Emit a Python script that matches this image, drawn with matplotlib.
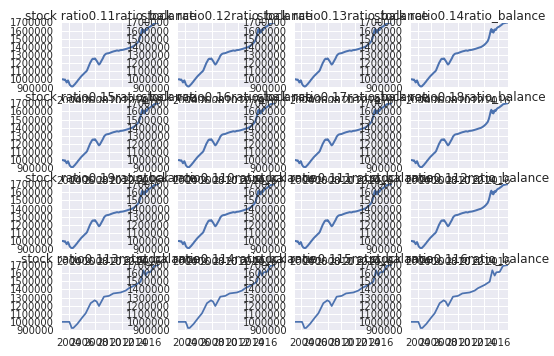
import matplotlib
matplotlib.use("Agg")
import matplotlib.pyplot as plt
from matplotlib.ticker import FixedLocator, FuncFormatter

# ---- data ----
ratio_labels = ["0.1%d" % i for i in range(1, 17)]

daily_years = [2003.00, 2003.15, 2003.30, 2003.45, 2003.60, 2003.70, 2003.80, 2003.90,
               2004.00, 2004.10, 2004.20, 2004.35, 2004.50, 2004.65, 2004.80, 2004.95,
               2005.10, 2005.25, 2005.40, 2005.55, 2005.70, 2005.85, 2006.00, 2006.15,
               2006.30, 2006.45, 2006.60, 2006.75, 2006.90, 2007.05, 2007.20, 2007.35,
               2007.50, 2007.65, 2007.80, 2007.95, 2008.10, 2008.25, 2008.40, 2008.55,
               2008.70, 2008.85, 2009.00, 2009.15, 2009.30, 2009.45, 2009.60, 2009.80,
               2010.00, 2010.25, 2010.50, 2010.75, 2011.00, 2011.25, 2011.50, 2011.75,
               2012.00, 2012.25, 2012.50, 2012.75, 2013.00, 2013.25, 2013.50, 2013.75,
               2014.00, 2014.25, 2014.50, 2014.65, 2014.80, 2014.95, 2015.05, 2015.15,
               2015.25, 2015.35, 2015.45, 2015.55, 2015.70, 2015.85, 2016.00, 2016.20,
               2016.40, 2016.60, 2016.80, 2017.00, 2017.20, 2017.40, 2017.55]
daily_balance = [1000000, 1002000, 994000, 998000, 978000, 962000, 975000, 988000,
                 970000, 945000, 930000, 918000, 912000, 916000, 930000, 942000,
                 958000, 972000, 990000, 1004000, 1020000, 1035000, 1048000, 1060000,
                 1072000, 1085000, 1095000, 1110000, 1140000, 1170000, 1200000, 1222000,
                 1245000, 1255000, 1250000, 1258000, 1240000, 1222000, 1200000, 1182000,
                 1195000, 1218000, 1240000, 1262000, 1290000, 1305000, 1315000, 1320000,
                 1322000, 1330000, 1338000, 1345000, 1350000, 1356000, 1352000, 1360000,
                 1362000, 1366000, 1372000, 1378000, 1385000, 1392000, 1398000, 1410000,
                 1425000, 1445000, 1470000, 1500000, 1545000, 1600000, 1620000, 1585000,
                 1605000, 1575000, 1595000, 1615000, 1605000, 1628000, 1640000, 1648000,
                 1660000, 1672000, 1688000, 1692000, 1696000, 1699000, 1700000]

smooth_years = [2003.00, 2004.10, 2004.30, 2004.45, 2004.70, 2005.30, 2006.05, 2006.55,
                2007.30, 2007.90, 2008.20, 2008.55, 2009.30, 2010.05, 2010.70, 2011.80,
                2012.55, 2013.05, 2014.05, 2014.80, 2015.20, 2015.55, 2015.80, 2016.30,
                2016.80, 2017.55]
smooth_balance = [1000000, 1000000, 960000, 925000, 925000, 975000, 1055000, 1105000,
                  1230000, 1265000, 1250000, 1195000, 1310000, 1320000, 1350000, 1362000,
                  1385000, 1415000, 1455000, 1495000, 1635000, 1570000, 1610000, 1615000,
                  1690000, 1700000]

year_ticks = [2004, 2006, 2008, 2010, 2012, 2014, 2016]
balance_ticks = [900000, 1000000, 1100000, 1200000, 1300000, 1400000, 1500000, 1600000, 1700000]

# ---- figure ----
W, H, DPI = 554, 356, 72
fig = plt.figure(figsize=(W / DPI, H / DPI), dpi=DPI, facecolor="white")
plt.rcParams['font.family'] = ['DejaVu Sans']

col_left = [62, 178.3, 294.7, 411]
row_top = [22.5, 103.3, 184.2, 265]
ax_w, ax_h = 97, 65

text_color = "#262626"
for idx, lab in enumerate(ratio_labels):
    r, c = divmod(idx, 4)
    left = col_left[c] / W
    bottom = 1 - (row_top[r] + ax_h) / H
    ax = fig.add_axes([left, bottom, ax_w / W, ax_h / H])
    ax.set_facecolor("#EAEAF2")
    for s in ax.spines.values():
        s.set_visible(False)
    if r < 3:
        xs, ys, lw = daily_years, daily_balance, 2.0
    else:
        xs, ys, lw = smooth_years, smooth_balance, 1.75
    ax.plot(xs, ys, color="#4C72B0", lw=lw, solid_capstyle="round")
    ax.set_xlim(xs[0], xs[-1])
    ax.set_ylim(balance_ticks[0], balance_ticks[-1])
    ax.xaxis.set_major_locator(FixedLocator(year_ticks))
    ax.xaxis.set_major_formatter(FuncFormatter(lambda v, p: "%d" % round(v)))
    ax.yaxis.set_major_locator(FixedLocator(balance_ticks))
    ax.yaxis.set_major_formatter(FuncFormatter(lambda v, p: "%d" % round(v)))
    ax.grid(True, color="white", lw=1)
    ax.set_axisbelow(True)
    ax.tick_params(axis="both", length=0, pad=8, labelsize=10, colors=text_color)
    ax.set_title("stock ratio%sratio_balance" % lab, fontsize=12, color=text_color, pad=1.5)

fig.savefig("out.png", dpi=DPI, facecolor="white")
